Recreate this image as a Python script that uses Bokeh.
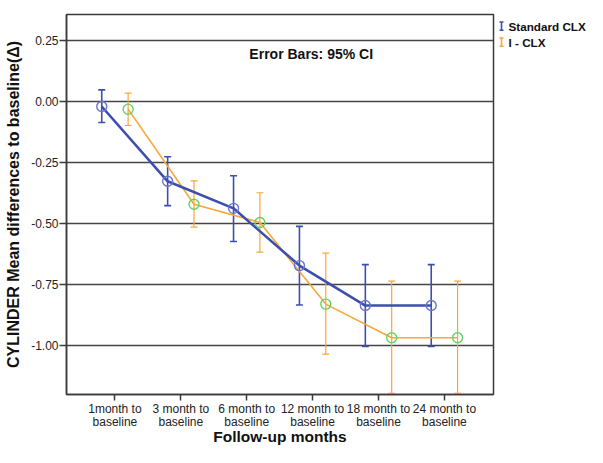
import numpy as np
from bokeh.plotting import figure
from bokeh.layouts import row
from bokeh.models import (ColumnDataSource, FixedTicker, Whisker, TeeHead, Label, Range1d)
from bokeh.core.properties import value
from bokeh.embed import file_html
from bokeh.resources import INLINE

# ---- data ----
categories = ["1month to\nbaseline", "3 month to\nbaseline", "6 month to\nbaseline",
              "12 month to\nbaseline", "18 month to\nbaseline", "24 month to\nbaseline"]
y_ticks = [-1.00, -0.75, -0.50, -0.25, 0.00, 0.25]

std_mean = [-0.020, -0.327, -0.438, -0.673, -0.837, -0.837]
std_lower = [-0.086, -0.427, -0.574, -0.835, -1.005, -1.005]
std_upper = [0.048, -0.226, -0.304, -0.512, -0.669, -0.669]

icl_mean = [-0.031, -0.421, -0.496, -0.831, -0.969, -0.969]
icl_lower = [-0.098, -0.515, -0.618, -1.036, -1.197, -1.197]
icl_upper = [0.035, -0.325, -0.374, -0.622, -0.737, -0.737]

series_names = ["Standard CLX", "I - CLX"]

# ---- styling ----
BLUE = "#3d4fae"
BLUE_MK = "#6676c8"
ORANGE = "#f7a638"
GREEN = "#66d066"
GRID = "#444444"
FONT = "Liberation Sans"

idx = np.arange(len(categories))
off = 0.2
src_std = ColumnDataSource(dict(x=idx - off, m=std_mean, lo=std_lower, hi=std_upper))
src_icl = ColumnDataSource(dict(x=idx + off, m=icl_mean, lo=icl_lower, hi=icl_upper))

yr = Range1d(-1.202, 0.3575)
p = figure(width=496, height=447, output_backend="svg", toolbar_location=None,
           x_range=Range1d(-0.735, 5.745), y_range=yr)
p.min_border_left = 66
p.min_border_right = 3
p.min_border_top = 14
p.min_border_bottom = 40

p.background_fill_color = "white"
p.border_fill_color = "white"
p.outline_line_color = "#3a3a3a"
p.outline_line_width = 1.5

p.xgrid.grid_line_color = None
p.ygrid.grid_line_color = GRID
p.ygrid.grid_line_width = 1.3

# axes
p.xaxis.ticker = FixedTicker(ticks=list(idx))
p.xaxis.major_label_overrides = {int(i): c for i, c in zip(idx, categories)}
p.yaxis.ticker = FixedTicker(ticks=y_ticks)
p.yaxis.major_label_overrides = {t: f"{t:.2f}" for t in y_ticks}
p.ygrid.ticker = FixedTicker(ticks=y_ticks)

for ax in (p.xaxis[0], p.yaxis[0]):
    ax.axis_line_color = "#3a3a3a"
    ax.axis_line_width = 1.5
    ax.major_tick_line_color = "#3a3a3a"
    ax.major_tick_line_width = 1.5
    ax.major_tick_in = 0
    ax.minor_tick_out = 0
    ax.minor_tick_in = 0
    ax.major_label_text_font = FONT
    ax.major_label_text_color = "#222222"
    ax.axis_label_text_font = FONT
    ax.axis_label_text_font_style = "bold"
    ax.axis_label_text_color = "#111111"

p.xaxis.major_tick_out = 6
p.yaxis.major_tick_out = 7
p.xaxis.major_label_text_font_size = "12px"
p.xaxis.major_label_standoff = 1
p.xaxis.major_label_text_line_height = 0.95
p.xaxis.axis_label = "Follow-up months"
p.xaxis.axis_label_text_font_size = "15.5px"
p.xaxis.axis_label_text_line_height = 0.7
p.xaxis.axis_label_standoff = -4

p.yaxis.major_label_text_font_size = "12px"
p.yaxis.major_label_standoff = 1
p.yaxis.axis_label = "CYLINDER Mean differences to baseline(\u0394)"
p.yaxis.axis_label_text_font_size = "16px"
p.yaxis.axis_label_standoff = 6

# error bars
for src, col, lw in ((src_icl, ORANGE, 1.2), (src_std, BLUE, 1.6)):
    w = Whisker(source=src, base="x", upper="hi", lower="lo", dimension="height",
                line_color=col, line_width=lw,
                upper_head=TeeHead(size=7, line_color=col, line_width=lw),
                lower_head=TeeHead(size=7, line_color=col, line_width=lw))
    p.add_layout(w)

# lines
p.line("x", "m", source=src_icl, line_color=ORANGE, line_width=1.6)
p.line("x", "m", source=src_std, line_color=BLUE, line_width=2.6)

# markers
p.scatter("x", "m", source=src_std, marker="circle", size=10, fill_color="white",
          fill_alpha=0, line_color=BLUE_MK, line_width=1.4)
p.scatter("x", "m", source=src_icl, marker="circle", size=10, fill_color="white",
          fill_alpha=0, line_color=GREEN, line_width=1.4)

# annotation text
p.add_layout(Label(x=2.04, y=0.196, text="Error Bars: 95% CI", text_font=FONT,
                   text_font_style="bold", text_font_size="14px",
                   text_baseline="middle", text_align="left", text_color="#111111"))

# ---- legend panel (separate small figure to the right, sharing the y scale) ----
q = figure(width=91, height=447, output_backend="svg", toolbar_location=None,
           x_range=Range1d(0, 91), y_range=yr, min_border=0)
q.axis.visible = False
q.grid.grid_line_color = None
q.outline_line_color = None
q.background_fill_color = "white"
q.border_fill_color = "white"

leg_colors = [BLUE, ORANGE]
leg_y = [0.310, 0.244]
half = 0.017
icon_x = 5
for name, col, yy in zip(series_names, leg_colors, leg_y):
    q.segment(x0=[icon_x], y0=[yy - half], x1=[icon_x], y1=[yy + half], line_color=col, line_width=1.6)
    q.segment(x0=[icon_x - 2], y0=[yy - half], x1=[icon_x + 2], y1=[yy - half], line_color=col, line_width=1.4)
    q.segment(x0=[icon_x - 2], y0=[yy + half], x1=[icon_x + 2], y1=[yy + half], line_color=col, line_width=1.4)
q.text(x=[12, 12], y=leg_y, text=series_names, text_font=value(FONT),
       text_font_style="bold", text_font_size="11.7px", text_baseline="middle",
       text_align="left", text_color="#111111")

layout = row(p, q)
open("out.html", "w").write(file_html(layout, INLINE))
